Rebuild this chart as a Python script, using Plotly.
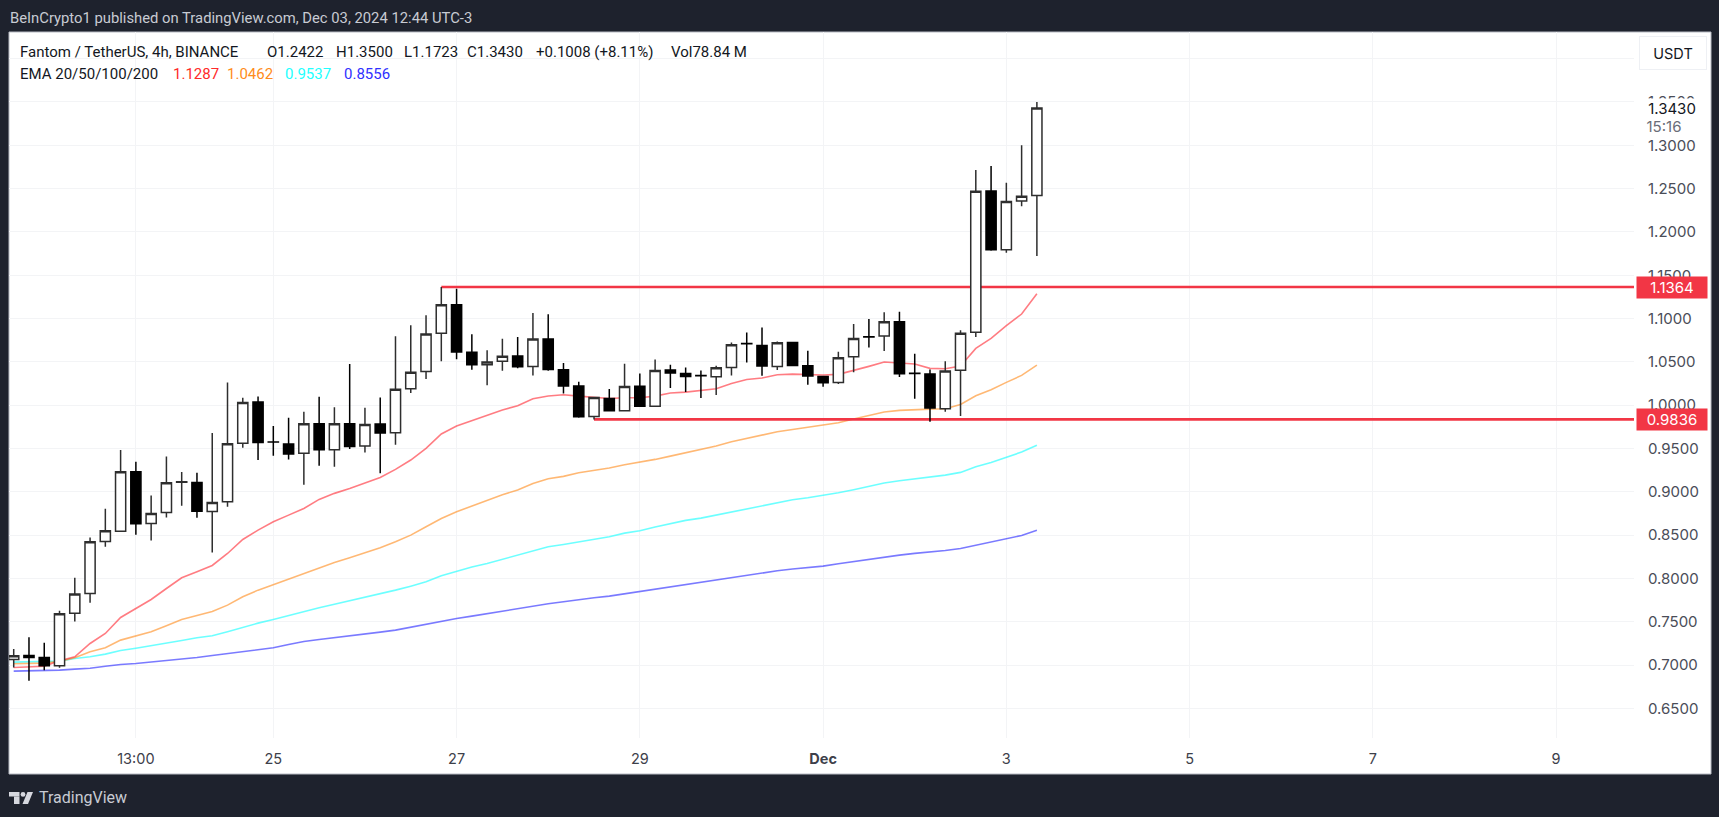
import pandas as pd
import plotly.graph_objects as go

# ----------------------------
# Data
# ----------------------------
dates = pd.date_range("2024-11-22 05:00", periods=68, freq="4h")

opens = [0.7064, 0.7110, 0.7087, 0.6991, 0.7599, 0.7827, 0.8427, 0.8546, 0.9232, 0.8635, 0.8762, 0.9110, 0.9108, 0.8773,
         0.8885, 0.9562, 1.0036, 0.9576, 0.9551, 0.9444, 0.9786, 0.9486, 0.9786, 0.9528, 0.9782, 0.9682, 1.0190, 1.0390,
         1.0829, 1.1160, 1.0610, 1.0467, 1.0506, 1.0568, 1.0448, 1.0764, 1.0410, 1.0221, 0.9870, 1.0078, 0.9936, 1.0220,
         0.9989, 1.0405, 1.0367, 1.0342, 1.0328, 1.0436, 1.0711, 1.0690, 1.0448, 1.0725, 1.0455, 1.0332, 1.0263, 1.0560,
         1.0789, 1.0798, 1.0964, 1.0369, 1.0360, 0.9959, 1.0402, 1.0841, 1.2473, 1.1795, 1.2357, 1.2422]
highs = [0.7184, 0.7322, 0.7257, 0.7626, 0.8007, 0.8473, 0.8804, 0.9482, 0.9347, 0.8958, 0.9409, 0.9228, 0.9220, 0.9678,
         1.0263, 1.0086, 1.0101, 0.9759, 0.9855, 0.9925, 1.0098, 0.9975, 1.0475, 0.9971, 1.0090, 1.0795, 1.0922, 1.1037,
         1.1364, 1.1345, 1.0818, 1.0633, 1.0768, 1.0787, 1.1064, 1.1049, 1.0487, 1.0271, 1.0090, 1.0186, 1.0478, 1.0367,
         1.0528, 1.0467, 1.0436, 1.0401, 1.0455, 1.0725, 1.0840, 1.0898, 1.0736, 1.0725, 1.0628, 1.0332, 1.0617, 1.0937,
         1.0995, 1.1072, 1.1079, 1.0594, 1.0413, 1.0506, 1.0864, 1.2715, 1.2761, 1.2569, 1.3000, 1.3500]
lows = [0.6972, 0.6818, 0.6941, 0.6968, 0.7503, 0.7719, 0.8365, 0.8546, 0.8504, 0.8439, 0.8704, 0.8839, 0.8700, 0.8300,
        0.8827, 0.9509, 0.9366, 0.9416, 0.9374, 0.9082, 0.9301, 0.9290, 0.9493, 0.9455, 0.9213, 0.9544, 1.0140, 1.0302,
        1.0506, 1.0529, 1.0410, 1.0229, 1.0398, 1.0425, 1.0344, 1.0398, 1.0136, 0.9855, 0.9836, 0.9936, 0.9936, 0.9989,
        0.9989, 1.0197, 1.0151, 1.0082, 1.0117, 1.0344, 1.0494, 1.0340, 1.0405, 1.0459, 1.0236, 1.0213, 1.0244, 1.0379,
        1.0667, 1.0625, 1.0325, 1.0075, 0.9809, 0.9925, 0.9875, 1.0787, 1.1784, 1.1761, 1.2296, 1.1723]
closes = [0.7107, 0.7087, 0.6991, 0.7592, 0.7819, 0.8423, 0.8550, 0.9232, 0.8631, 0.8750, 0.9104, 0.9116, 0.8777, 0.8877,
          0.9555, 1.0032, 0.9570, 0.9574, 0.9436, 0.9786, 0.9486, 0.9786, 0.9524, 0.9778, 0.9678, 1.0183, 1.0379, 1.0821,
          1.1160, 1.0614, 1.0467, 1.0498, 1.0564, 1.0444, 1.0764, 1.0413, 1.0221, 0.9866, 1.0090, 0.9936, 1.0217, 0.9989,
          1.0401, 1.0371, 1.0332, 1.0340, 1.0432, 1.0698, 1.0709, 1.0451, 1.0721, 1.0459, 1.0336, 1.0259, 1.0548, 1.0771,
          1.0787, 1.0964, 1.0363, 1.0367, 0.9967, 1.0394, 1.0829, 1.2469, 1.1795, 1.2350, 1.2411, 1.3430]

ema20 = [0.6972, 0.6980, 0.6987, 0.7049, 0.7095, 0.7249, 0.7365, 0.7549, 0.7653, 0.7757, 0.7884, 0.8007, 0.8077, 0.8150,
         0.8288, 0.8450, 0.8558, 0.8654, 0.8731, 0.8808, 0.8912, 0.8982, 0.9039, 0.9105, 0.9166, 0.9259, 0.9367, 0.9501,
         0.9667, 0.9759, 0.9821, 0.9886, 0.9944, 0.9994, 1.0075, 1.0106, 1.0121, 1.0105, 1.0090, 1.0078, 1.0086, 1.0086,
         1.0105, 1.0140, 1.0151, 1.0167, 1.0190, 1.0251, 1.0297, 1.0313, 1.0351, 1.0359, 1.0356, 1.0348, 1.0356, 1.0398,
         1.0448, 1.0498, 1.0487, 1.0475, 1.0425, 1.0421, 1.0452, 1.0656, 1.0771, 1.0918, 1.1052, 1.1287]
ema50 = [0.7015, 0.7020, 0.7022, 0.7043, 0.7085, 0.7153, 0.7199, 0.7288, 0.7334, 0.7384, 0.7453, 0.7526, 0.7573, 0.7619,
         0.7692, 0.7788, 0.7865, 0.7930, 0.7988, 0.8057, 0.8119, 0.8184, 0.8238, 0.8296, 0.8354, 0.8423, 0.8500, 0.8596,
         0.8692, 0.8770, 0.8835, 0.8904, 0.8966, 0.9020, 0.9097, 0.9151, 0.9178, 0.9220, 0.9243, 0.9274, 0.9312, 0.9339,
         0.9374, 0.9412, 0.9451, 0.9486, 0.9528, 0.9578, 0.9616, 0.9647, 0.9693, 0.9720, 0.9744, 0.9767, 0.9797, 0.9840,
         0.9878, 0.9921, 0.9940, 0.9951, 0.9955, 0.9959, 1.0009, 1.0109, 1.0178, 1.0263, 1.0344, 1.0462]
ema100 = [0.7034, 0.7037, 0.7037, 0.7045, 0.7076, 0.7095, 0.7126, 0.7168, 0.7195, 0.7222, 0.7253, 0.7284, 0.7315, 0.7338,
          0.7384, 0.7438, 0.7484, 0.7526, 0.7572, 0.7622, 0.7661, 0.7703, 0.7742, 0.7780, 0.7819, 0.7865, 0.7911, 0.7961,
          0.8030, 0.8084, 0.8131, 0.8173, 0.8219, 0.8265, 0.8315, 0.8365, 0.8392, 0.8423, 0.8454, 0.8481, 0.8523, 0.8550,
          0.8593, 0.8631, 0.8670, 0.8696, 0.8731, 0.8766, 0.8808, 0.8843, 0.8877, 0.8908, 0.8931, 0.8958, 0.8989, 0.9024,
          0.9066, 0.9101, 0.9128, 0.9151, 0.9166, 0.9193, 0.9224, 0.9289, 0.9339, 0.9397, 0.9459, 0.9537]
ema200 = [0.6930, 0.6934, 0.6934, 0.6941, 0.6953, 0.6964, 0.6987, 0.7007, 0.7018, 0.7034, 0.7049, 0.7072, 0.7088, 0.7111,
          0.7134, 0.7161, 0.7180, 0.7199, 0.7238, 0.7272, 0.7295, 0.7315, 0.7334, 0.7357, 0.7380, 0.7403, 0.7438, 0.7472,
          0.7507, 0.7538, 0.7565, 0.7595, 0.7622, 0.7649, 0.7680, 0.7707, 0.7730, 0.7757, 0.7777, 0.7796, 0.7823, 0.7850,
          0.7877, 0.7903, 0.7930, 0.7957, 0.7984, 0.8011, 0.8042, 0.8065, 0.8088, 0.8108, 0.8123, 0.8142, 0.8169, 0.8196,
          0.8223, 0.8250, 0.8269, 0.8289, 0.8304, 0.8323, 0.8346, 0.8385, 0.8423, 0.8458, 0.8496, 0.8556]

level_high = 1.1364
level_low = 0.9836
level_high_start = 28
level_low_start = 38
last_price = 1.3430

x_tickvals = ["2024-11-23 13:00", "2024-11-25 01:00", "2024-11-27 01:00", "2024-11-29 01:00", "2024-12-01 01:00",
              "2024-12-03 01:00", "2024-12-05 01:00", "2024-12-07 01:00", "2024-12-09 01:00"]
x_ticktext = ["13:00", "25", "27", "29", "<b>Dec</b>", "3", "5", "7", "9"]
y_tickvals = [0.65, 0.70, 0.75, 0.80, 0.85, 0.90, 0.95, 1.00, 1.05, 1.10, 1.15, 1.20, 1.25, 1.30, 1.35, 1.40]

x_range = ["2024-11-22 03:46", "2024-12-09 21:24"]
y_range = [0.6158, 1.4308]

# ----------------------------
# Page geometry (pixels)
# ----------------------------
W, H = 1719, 817
left, right, top, bottom = 9, 1634, 32, 738

FONT = "Inter, Roboto, sans-serif"
DARK = "#1e222d"
GRID = "#f3f4f6"
RED = "#f23645"
INK = "#2e2e2e"


def px(x):
    return (x - left) / (right - left)


def py(y):
    return 1 - (y - top) / (bottom - top)


def rect(x0, y0, x1, y1, color, layer="below", line=None):
    return dict(type="rect", xref="paper", yref="paper", x0=px(x0), y0=py(y0), x1=px(x1), y1=py(y1),
                fillcolor=color, layer=layer, line=dict(width=1 if line else 0, color=line or color))


def label(x, y, text, color="#131722", size=15, family="Roboto, sans-serif", **kw):
    return dict(xref="paper", yref="paper", x=px(x), y=py(y), text=text, showarrow=False, xanchor=kw.pop("xanchor", "left"),
                yanchor="middle", font=dict(size=size, color=color, family=family), borderpad=0, **kw)


fig = go.Figure()

# EMA lines go on the base axes so the candles sit on top of them
ema_series = [(ema200, "rgba(40,40,255,0.62)"), (ema100, "rgba(30,255,255,0.65)"),
              (ema50, "rgba(255,140,30,0.62)"), (ema20, "rgba(255,30,40,0.58)")]
for values, color in ema_series:
    fig.add_trace(go.Scatter(x=dates, y=values, mode="lines", line=dict(color=color, width=1.6), hoverinfo="skip",
                             showlegend=False))

for value, start in [(level_high, level_high_start), (level_low, level_low_start)]:
    fig.add_trace(go.Scatter(x=[dates[start], x_range[1]], y=[value, value], mode="lines",
                             line=dict(color=RED, width=2.6), hoverinfo="skip", showlegend=False))

fig.add_trace(go.Candlestick(
    x=dates, open=opens, high=highs, low=lows, close=closes,
    xaxis="x2", yaxis="y2", whiskerwidth=0, showlegend=False,
    increasing=dict(line=dict(color=INK, width=1.5), fillcolor="#ffffff"),
    decreasing=dict(line=dict(color="#000000", width=1.5), fillcolor="#000000"),
))

shapes = [
    rect(9, 32, 1711, 774, "#ffffff", line="#b8bbc4"),
    # TradingView mark
    rect(9, 792, 19.5, 796.5, "#d6d8df"),
    rect(14, 796.5, 19.5, 804, "#d6d8df"),
    dict(type="circle", xref="paper", yref="paper", x0=px(20.6), y0=py(792), x1=px(25.4), y1=py(796.8),
         fillcolor="#d6d8df", line=dict(width=0), layer="below"),
    dict(type="path", xref="paper", yref="paper", layer="below", fillcolor="#d6d8df", line=dict(width=0),
         path=f"M {px(27.5)} {py(792)} L {px(33)} {py(792)} L {px(28)} {py(804)} L {px(22.5)} {py(804)} Z"),
]

annotations = [
    label(9, 18, "BeInCrypto1 published on TradingView.com, Dec 03, 2024 12:44 UTC-3", color="#c8cbd3", size=14.8),
    label(18.5, 52, "Fantom / TetherUS, 4h, BINANCE"),
    label(265.5, 52, "O1.2422"),
    label(334.5, 52, "H1.3500"),
    label(403, 52, "L1.1723"),
    label(466, 52, "C1.3430"),
    label(535, 52, "+0.1008 (+8.11%)"),
    label(670, 52, "Vol78.84 M"),
    label(18.5, 73.5, "EMA 20/50/100/200"),
    label(171.5, 73.5, "1.1287", color="#ff2a2a"),
    label(225.5, 73.5, "1.0462", color="#ff8c1a"),
    label(284, 73.5, "0.9537", color="#22ffff"),
    label(343, 73.5, "0.8556", color="#3030ff"),
    # price scale labels, these cover the ticks underneath like in the original
    label(1639, 53, "USDT", color="#131722", family=FONT, size=14.5, bgcolor="#ffffff", bordercolor="#eef0f4",
          borderwidth=1, width=66, height=32, align="center"),
    label(1636, 108.3, f"{last_price:.4f}", color="#131722", family=FONT, bgcolor="#ffffff", width=70, height=18,
          align="center"),
    label(1636, 126.3, "15:16", color="#6a6d78", family=FONT, bgcolor="#ffffff", width=54, height=18, align="center"),
    label(1636, 287.3, f"{level_high:.4f}", color="#ffffff", family=FONT, bgcolor=RED, width=70, height=21, align="center"),
    label(1636, 419.3, f"{level_low:.4f}", color="#ffffff", family=FONT, bgcolor=RED, width=70, height=21, align="center"),
    label(38, 797.5, "TradingView", color="#c8cbd3", size=16),
]

fig.update_layout(
    width=W,
    height=H,
    margin=dict(l=left, r=W - right, t=top, b=H - bottom),
    paper_bgcolor=DARK,
    plot_bgcolor="rgba(0,0,0,0)",
    showlegend=False,
    boxgap=0.05,
    shapes=shapes,
    annotations=annotations,
    xaxis=dict(type="date", range=x_range, tickmode="array", tickvals=x_tickvals, ticktext=x_ticktext,
               showgrid=True, gridcolor=GRID, gridwidth=1, zeroline=False, showline=False,
               ticks="outside", ticklen=8, tickcolor="rgba(0,0,0,0)", tickangle=0,
               tickfont=dict(family=FONT, size=14.5, color="#3d404a"), rangeslider=dict(visible=False)),
    yaxis=dict(range=y_range, side="right", tickmode="array", tickvals=y_tickvals, tickformat=".4f",
               showgrid=True, gridcolor=GRID, gridwidth=1, zeroline=False, showline=False,
               ticks="outside", ticklen=10, tickcolor="rgba(0,0,0,0)",
               tickfont=dict(family=FONT, size=15, color="#4a4d58")),
    xaxis2=dict(type="date", range=x_range, overlaying="x", visible=False, rangeslider=dict(visible=False)),
    yaxis2=dict(range=y_range, overlaying="y", visible=False),
)

fig.write_html("out.html", config=dict(displayModeBar=False),
               post_script="document.body.style.margin='0';document.body.style.overflow='hidden';")
